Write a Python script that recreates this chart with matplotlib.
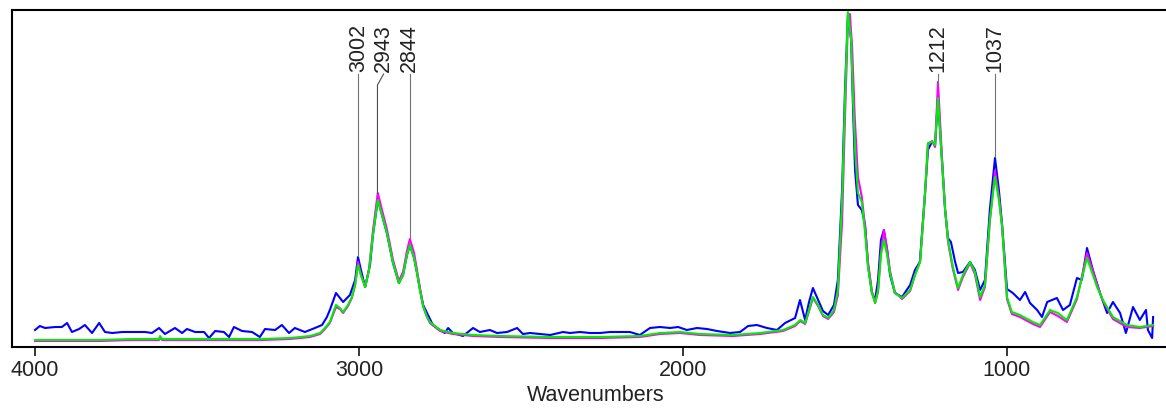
import numpy as np
import matplotlib
matplotlib.use("Agg")
import matplotlib.pyplot as plt

plt.rcParams["font.family"] = ["Liberation Sans", "DejaVu Sans"]

# wavenumbers (cm-1) and intensity (arbitrary units)
blue_wn = [4000, 3985, 3969, 3938, 3917, 3901, 3886, 3864, 3846, 3824, 3802, 3784, 3762, 3731, 3701,
           3660, 3639, 3617, 3599, 3568, 3546, 3531, 3506, 3478, 3463, 3444, 3417, 3401, 3386, 3361,
           3330, 3306, 3290, 3259, 3238, 3216, 3198, 3167, 3136, 3114, 3099, 3090, 3071, 3049, 3028,
           3012, 3003, 2994, 2981, 2966, 2957, 2942, 2929, 2914, 2895, 2877, 2864, 2852, 2843, 2830,
           2821, 2812, 2802, 2790, 2772, 2750, 2735, 2725, 2710, 2679, 2648, 2627, 2596, 2574, 2543,
           2512, 2494, 2472, 2441, 2410, 2370, 2349, 2318, 2287, 2256, 2225, 2194, 2164, 2133, 2102,
           2071, 2040, 2015, 1988, 1957, 1926, 1895, 1855, 1824, 1799, 1772, 1741, 1710, 1685, 1654,
           1639, 1623, 1611, 1599, 1583, 1568, 1552, 1534, 1522, 1509, 1500, 1491, 1481, 1475, 1469,
           1460, 1448, 1438, 1429, 1417, 1407, 1398, 1389, 1380, 1370, 1361, 1346, 1324, 1299, 1284,
           1269, 1253, 1244, 1232, 1222, 1213, 1201, 1191, 1182, 1173, 1160, 1151, 1136, 1114, 1099,
           1083, 1068, 1053, 1037, 1025, 1015, 1000, 982, 960, 944, 929, 907, 892, 876, 846,
           827, 806, 784, 769, 753, 735, 713, 691, 673, 651, 633, 611, 590, 571, 565,
           552, 549]
blue_int = [17, 21, 19, 20, 20, 24, 15, 18, 22, 14, 24, 15, 14, 15, 15,
            15, 14, 19, 13, 19, 14, 18, 15, 15, 9, 16, 15, 10, 20, 16,
            15, 10, 18, 17, 22, 14, 19, 15, 19, 22, 30, 37, 54, 45, 52,
            67, 90, 77, 60, 82, 112, 147, 132, 114, 84, 64, 72, 92, 102, 89,
            74, 58, 42, 34, 22, 17, 14, 19, 14, 11, 19, 15, 17, 14, 15,
            19, 13, 14, 13, 12, 15, 14, 15, 14, 14, 15, 15, 15, 12, 19,
            20, 19, 20, 17, 19, 18, 16, 14, 15, 21, 22, 19, 17, 24, 29,
            47, 27, 45, 59, 47, 36, 32, 42, 67, 157, 257, 332, 307, 237, 177,
            142, 137, 122, 82, 54, 47, 67, 107, 117, 97, 72, 54, 50, 62, 77,
            85, 154, 197, 205, 202, 249, 187, 137, 109, 105, 85, 74, 75, 85, 77,
            57, 67, 137, 189, 157, 122, 58, 54, 47, 55, 44, 37, 30, 45, 49,
            37, 42, 69, 67, 99, 77, 54, 34, 45, 34, 14, 40, 27, 37, 17,
            9, 30]

green_wn = [4000, 3900, 3800, 3700, 3617, 3614, 3608, 3500, 3400, 3300, 3213, 3151, 3120, 3105, 3090,
            3071, 3059, 3049, 3034, 3022, 3012, 3003, 2994, 2981, 2969, 2957, 2942, 2929, 2914, 2895,
            2877, 2864, 2852, 2843, 2830, 2821, 2812, 2802, 2790, 2781, 2750, 2710, 2648, 2565, 2411,
            2256, 2133, 2071, 2009, 1948, 1846, 1762, 1691, 1654, 1638, 1623, 1611, 1599, 1583, 1568,
            1552, 1534, 1522, 1509, 1500, 1491, 1481, 1475, 1469, 1460, 1448, 1438, 1429, 1417, 1407,
            1398, 1389, 1380, 1370, 1361, 1346, 1324, 1299, 1284, 1268, 1253, 1244, 1231, 1222, 1213,
            1201, 1191, 1182, 1167, 1151, 1136, 1114, 1099, 1083, 1068, 1053, 1037, 1025, 1015, 1000,
            985, 960, 920, 898, 867, 843, 815, 784, 753, 722, 704, 673, 630, 590, 549]
green_int = [7, 7, 7, 8, 8, 11, 8, 8, 8, 8, 9, 11, 14, 19, 25,
             42, 39, 35, 42, 50, 62, 82, 72, 60, 77, 112, 147, 132, 114, 84,
             64, 72, 92, 102, 89, 74, 57, 40, 30, 25, 17, 14, 12, 11, 10,
             10, 11, 14, 15, 13, 12, 14, 17, 22, 27, 24, 37, 50, 42, 32,
             29, 37, 57, 147, 247, 335, 307, 247, 197, 154, 145, 114, 80, 54, 44,
             57, 92, 107, 92, 74, 54, 49, 57, 72, 85, 154, 204, 205, 202, 249,
             187, 137, 107, 80, 59, 72, 85, 75, 50, 62, 127, 170, 147, 120, 50,
             35, 32, 25, 22, 37, 34, 27, 50, 89, 60, 47, 30, 22, 20, 22]

magenta_wn = [4000, 3900, 3800, 3700, 3617, 3614, 3608, 3500, 3400, 3300, 3213, 3151, 3120, 3105, 3090,
              3071, 3059, 3049, 3034, 3022, 3012, 3003, 2994, 2981, 2969, 2957, 2942, 2929, 2914, 2895,
              2877, 2864, 2852, 2843, 2830, 2821, 2812, 2802, 2790, 2781, 2750, 2710, 2648, 2565, 2411,
              2256, 2133, 2071, 2009, 1948, 1846, 1762, 1691, 1654, 1638, 1623, 1611, 1599, 1583, 1568,
              1552, 1534, 1522, 1509, 1500, 1491, 1485, 1478, 1470, 1460, 1448, 1438, 1429, 1417, 1407,
              1398, 1389, 1380, 1370, 1361, 1346, 1324, 1299, 1284, 1268, 1253, 1244, 1231, 1222, 1213,
              1201, 1191, 1182, 1167, 1151, 1136, 1114, 1099, 1083, 1068, 1053, 1037, 1025, 1015, 1000,
              985, 960, 920, 898, 867, 843, 815, 784, 753, 722, 704, 673, 630, 590, 549]
magenta_int = [6, 6, 6, 7, 7, 10, 7, 7, 7, 7, 8, 10, 13, 18, 24,
               40, 38, 34, 41, 49, 62, 85, 72, 60, 78, 116, 154, 137, 118, 87,
               66, 75, 96, 108, 94, 77, 59, 41, 30, 24, 16, 13, 11, 10, 9,
               9, 10, 13, 14, 12, 11, 13, 16, 21, 26, 23, 36, 49, 41, 31,
               28, 35, 52, 125, 230, 325, 333, 300, 230, 170, 150, 120, 85, 56, 44,
               55, 95, 117, 98, 76, 55, 48, 56, 72, 86, 152, 203, 206, 200, 265,
               192, 138, 105, 78, 57, 70, 84, 73, 47, 60, 125, 176, 150, 120, 48,
               33, 30, 23, 20, 35, 31, 25, 48, 94, 63, 46, 28, 20, 19, 21]

peak_labels = [3002, 2943, 2844, 1212, 1037]

fig = plt.figure(figsize=(11.66, 4.08), dpi=100)
ax = fig.add_axes([12 / 1166, 61 / 408, (1180 - 12) / 1166, 337 / 408])

ax.plot(blue_wn, blue_int, color="#0000ff", lw=1.5)
ax.plot(magenta_wn, magenta_int, color="#ff00ff", lw=1.5)
ax.plot(green_wn, green_int, color="#00ee00", lw=1.5)

ax.set_xlim(4071, 466)
ax.set_ylim(0, 337)

# peak markers: thin leader line from the top of the peak up to a rotated label
label_top = 323
label_bottom = 273
label_shift = {2943: -19}
for wn in peak_labels:
    top = max(np.interp(-wn, -np.array(s_wn), s_int)
              for s_wn, s_int in [(blue_wn, blue_int), (green_wn, green_int), (magenta_wn, magenta_int)])
    lx = wn + label_shift.get(wn, 0)
    if lx != wn:
        ax.plot([lx, wn, wn], [label_bottom, label_bottom - 11, top + 2], color="0.3", lw=0.8)
    else:
        ax.plot([wn, wn], [label_bottom, top + 2], color="0.45", lw=0.8)
    ax.text(lx, label_top, str(wn), rotation=90, ha="center", va="top", fontsize=15.5, color="#222222")

ax.spines["right"].set_visible(False)
for side in ["left", "top", "bottom"]:
    ax.spines[side].set_linewidth(1.5)
ax.set_yticks([])
ax.set_xticks([4000, 3000, 2000, 1000])
ax.tick_params(axis="x", direction="out", length=6.5, width=1.1, pad=3, labelsize=15.5, labelcolor="#222222")
ax.set_xlabel("Wavenumbers", fontsize=15.5, color="#222222", labelpad=3)

fig.savefig("out.png", dpi=100)
